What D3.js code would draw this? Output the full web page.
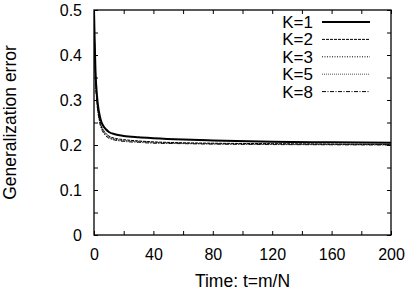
<!DOCTYPE html>
<html>
<head>
<meta charset="utf-8">
<script src="https://cdn.jsdelivr.net/npm/d3@7"></script>
<style>
  body { margin: 0; background: #fff; }
  text { font-family: "Liberation Sans", Arial, sans-serif; fill: #000; }
</style>
</head>
<body>
<div id="chart"></div>
<script>
// data

var times = [0, 0.5, 1, 2, 3, 4, 5, 6, 8, 10, 14, 20, 30, 40, 60, 80, 120, 160, 200];
var errK1 = [0.5, 0.425, 0.365, 0.31, 0.28, 0.263, 0.251, 0.244, 0.235, 0.229, 0.224, 0.220, 0.217, 0.215, 0.212, 0.210, 0.207, 0.206, 0.205];
var errK2 = [0.5, 0.415, 0.355, 0.300, 0.272, 0.254, 0.242, 0.235, 0.226, 0.220, 0.215, 0.212, 0.209, 0.207, 0.205, 0.204, 0.203, 0.202, 0.2015];
var errK3 = [0.5, 0.413, 0.352, 0.297, 0.269, 0.251, 0.240, 0.233, 0.224, 0.218, 0.213, 0.210, 0.208, 0.206, 0.204, 0.203, 0.202, 0.2015, 0.201];
var errK5 = [0.5, 0.411, 0.350, 0.295, 0.267, 0.249, 0.238, 0.231, 0.222, 0.217, 0.212, 0.209, 0.207, 0.205, 0.2035, 0.2025, 0.2015, 0.201, 0.2005];
var errK8 = [0.5, 0.409, 0.348, 0.293, 0.265, 0.247, 0.236, 0.229, 0.220, 0.215, 0.211, 0.208, 0.206, 0.204, 0.203, 0.202, 0.201, 0.2005, 0.200];
var seriesNames = ["K=1", "K=2", "K=3", "K=5", "K=8"];
var xTickLabels = [0, 40, 80, 120, 160, 200];
var yTickLabels = [0, 0.1, 0.2, 0.3, 0.4, 0.5];

var series = [errK1, errK2, errK3, errK5, errK8].map(function (vals, i) {
  return { name: seriesNames[i], values: vals.map(function (v, j) { return { t: times[j], e: v }; }) };
});

var styles = [
  { width: 2, dash: null, color: "#000" },
  { width: 1, dash: "3,1", color: "#000" },
  { width: 1, dash: "1,1.5", color: "#000" },
  { width: 1, dash: "1,1", color: "#555" },
  { width: 1, dash: "4,1.5,1,1.5", color: "#000" }
];

var svgWidth = 409;
var svgHeight = 295;
var margin = { top: 10, right: 18, bottom: 60, left: 94 };
var width = svgWidth - margin.left - margin.right;
var height = svgHeight - margin.top - margin.bottom;

var svg = d3.select("#chart")
  .append("svg")
  .attr("width", svgWidth)
  .attr("height", svgHeight);

var chart = svg.append("g")
  .attr("transform", "translate(" + margin.left + "," + margin.top + ")");

var x = d3.scaleLinear().domain([0, 200]).range([0, width]);
var y = d3.scaleLinear().domain([0, 0.5]).range([height, 0]);

// tick marks (inward, all four sides)
var tickLen = 4;
var xMinor = d3.range(0, 201, 20);
var yMinor = d3.range(0, 0.501, 0.05);

chart.append("g").attr("transform", "translate(0," + height + ")")
  .call(d3.axisBottom(x).tickValues(xMinor).tickSizeInner(-tickLen).tickSizeOuter(0).tickFormat(""));
chart.append("g")
  .call(d3.axisTop(x).tickValues(xMinor).tickSizeInner(-tickLen).tickSizeOuter(0).tickFormat(""));
chart.append("g")
  .call(d3.axisLeft(y).tickValues(yMinor).tickSizeInner(-tickLen).tickSizeOuter(0).tickFormat(""));
chart.append("g").attr("transform", "translate(" + width + ",0)")
  .call(d3.axisRight(y).tickValues(yMinor).tickSizeInner(-tickLen).tickSizeOuter(0).tickFormat(""));

chart.selectAll(".domain").remove();
chart.selectAll(".tick line").attr("stroke", "#000").attr("stroke-width", 1);

// tick labels
chart.append("g").attr("transform", "translate(0," + height + ")")
  .call(d3.axisBottom(x).tickValues(xTickLabels).tickSize(0).tickPadding(14).tickFormat(d3.format("d")))
  .call(function (g) { g.select(".domain").remove(); })
  .selectAll("text").style("font-size", "16px").style("font-family", "Liberation Sans, Arial, sans-serif");

chart.append("g")
  .call(d3.axisLeft(y).tickValues(yTickLabels).tickSize(0).tickPadding(12).tickFormat(function (d) { return d === 0 ? "0" : d3.format(".1f")(d); }))
  .call(function (g) { g.select(".domain").remove(); })
  .selectAll("text").style("font-size", "16px").style("font-family", "Liberation Sans, Arial, sans-serif");

// clip + curves
svg.append("defs").append("clipPath").attr("id", "plotclip")
  .append("rect").attr("width", width).attr("height", height);

var line = d3.line()
  .x(function (d) { return x(d.t); })
  .y(function (d) { return y(d.e); })
  .curve(d3.curveMonotoneX);

chart.append("g").attr("clip-path", "url(#plotclip)")
  .selectAll("path")
  .data(series.slice().reverse())
  .enter()
  .append("path")
  .attr("fill", "none")
  .attr("d", function (d) { return line(d.values); })
  .each(function (d) {
    var s = styles[seriesNames.indexOf(d.name)];
    d3.select(this).attr("stroke", s.color).attr("stroke-width", s.width)
      .attr("stroke-dasharray", s.dash);
  });

// frame
chart.append("rect")
  .attr("width", width)
  .attr("height", height)
  .attr("fill", "none")
  .attr("stroke", "#000")
  .attr("stroke-width", 1.3);

// legend
var legend = chart.append("g").attr("transform", "translate(" + (width - 78) + ",12)");
var rowH = 17.4;
seriesNames.forEach(function (name, i) {
  var s = styles[i];
  legend.append("text")
    .attr("x", 0)
    .attr("y", i * rowH)
    .attr("dy", "0.35em")
    .attr("text-anchor", "end")
    .style("font-size", "17px")
    .text(name);
  legend.append("line")
    .attr("x1", 9).attr("x2", 57)
    .attr("y1", i * rowH).attr("y2", i * rowH)
    .attr("stroke", s.color)
    .attr("stroke-width", s.width)
    .attr("stroke-dasharray", s.dash);
});

// axis titles
svg.append("text")
  .attr("x", margin.left + width / 2)
  .attr("y", 287)
  .attr("text-anchor", "middle")
  .style("font-size", "17.5px")
  .text("Time: t=m/N");

svg.append("text")
  .attr("transform", "rotate(-90)")
  .attr("x", -(margin.top + height / 2))
  .attr("y", 16)
  .attr("text-anchor", "middle")
  .style("font-size", "17.5px")
  .text("Generalization error");
</script>
</body>
</html>
